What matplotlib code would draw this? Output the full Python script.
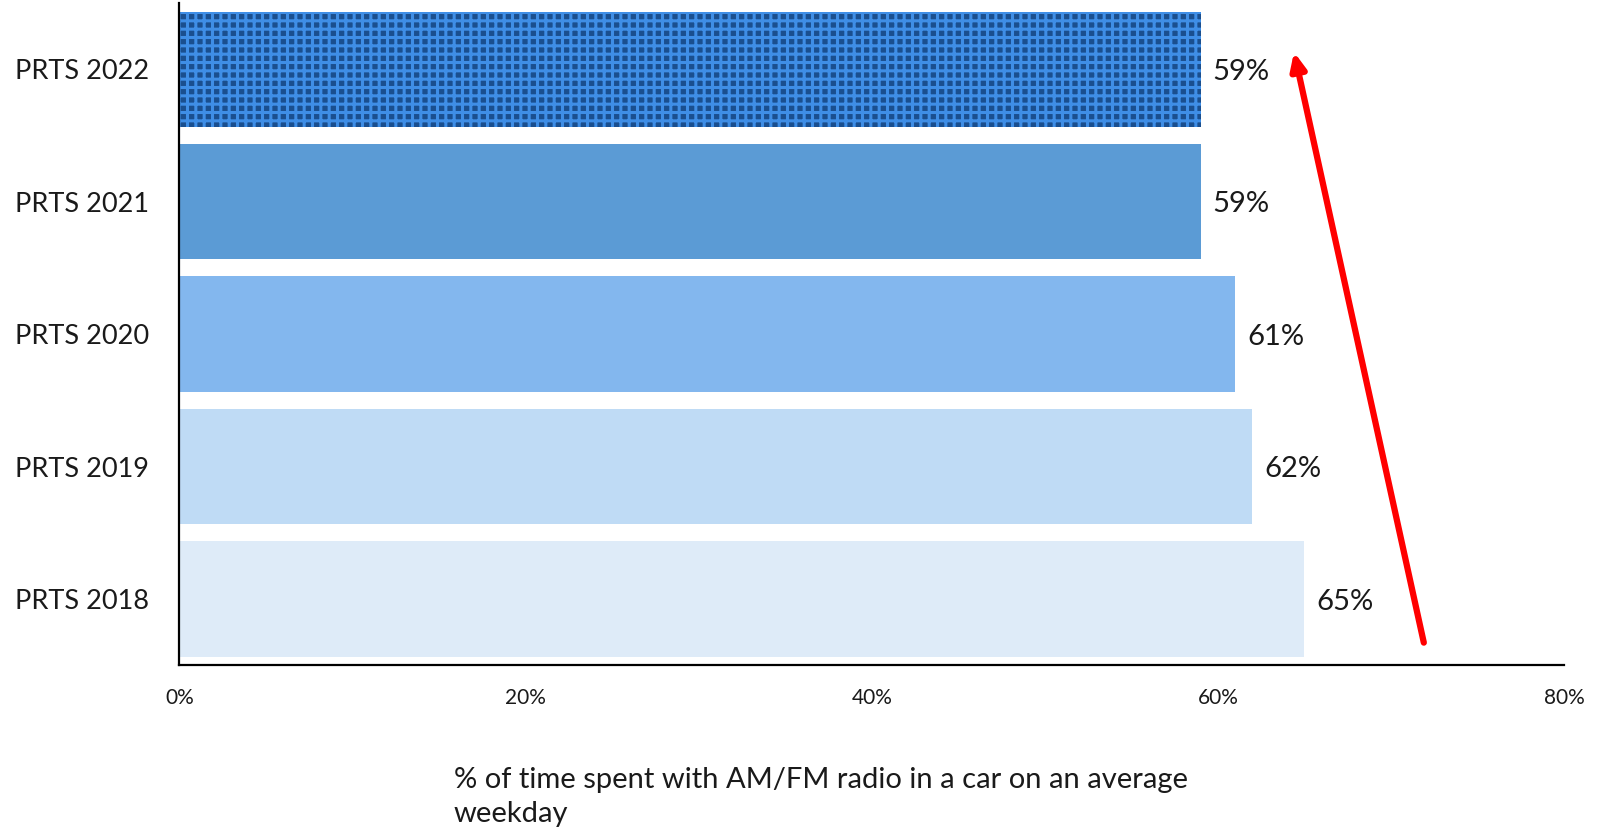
import matplotlib.pyplot as plt
from matplotlib.ticker import PercentFormatter

# survey waves, bottom to top
waves = ['PRTS 2018', 'PRTS 2019', 'PRTS 2020', 'PRTS 2021', 'PRTS 2022']
share = [65, 62, 61, 59, 59]
bar_colors = ['#deebf8', '#bfdbf5', '#83b7ee', '#5b9bd5', '#1a4f8f']
x_ticks = [0, 20, 40, 60, 80]

plt.rcParams['font.family'] = ['Lato', 'DejaVu Sans']
plt.rcParams['hatch.linewidth'] = 2.2

fig = plt.figure(figsize=(16.08, 8.30), dpi=100)
ax = fig.add_axes([179.5 / 1608, 1 - 664.5 / 830, (1564 - 179.5) / 1608, (664.5 - 3) / 830])

pos = list(range(len(waves)))
bars = ax.barh(pos, share, height=0.87, color=bar_colors, linewidth=0)

# latest wave gets the textured fill
bars[-1].set_hatch('++')
bars[-1].set_edgecolor('#3f8ee6')
bars[-1].set_linewidth(0)

for p, v in zip(pos, share):
    ax.text(v + 0.7, p - 0.02, f'{v}%', va='center', ha='left', fontsize=21, color='#1a1a1a')

ax.set_xlim(0, 80)
ax.set_ylim(-0.495, 4.5)
ax.set_xticks(x_ticks)
ax.xaxis.set_major_formatter(PercentFormatter(decimals=0))
ax.set_yticks(pos)
ax.set_yticklabels(waves)
ax.tick_params(axis='x', length=0, pad=17, labelsize=15, colors='#1a1a1a')
ax.tick_params(axis='y', length=0, pad=22, labelsize=19.5, colors='#1a1a1a')

for s in ['top', 'right']:
    ax.spines[s].set_visible(False)
for s in ['left', 'bottom']:
    ax.spines[s].set_linewidth(1.6)
    ax.spines[s].set_color('black')

# downward trend arrow
ax.annotate('', xy=(64.4, 4.13), xytext=(71.9, -0.33),
            arrowprops=dict(arrowstyle='-|>,head_length=1.0,head_width=0.45',
                            color='#ff0000', lw=4.5, shrinkA=0, shrinkB=0),
            annotation_clip=False)

fig.text(454 / 1608, 1 - 797 / 830,
         '% of time spent with AM/FM radio in a car on an average\nweekday',
         ha='left', va='center', fontsize=21, color='#1a1a1a', linespacing=1.42)

fig.savefig('out.png', dpi=100)
